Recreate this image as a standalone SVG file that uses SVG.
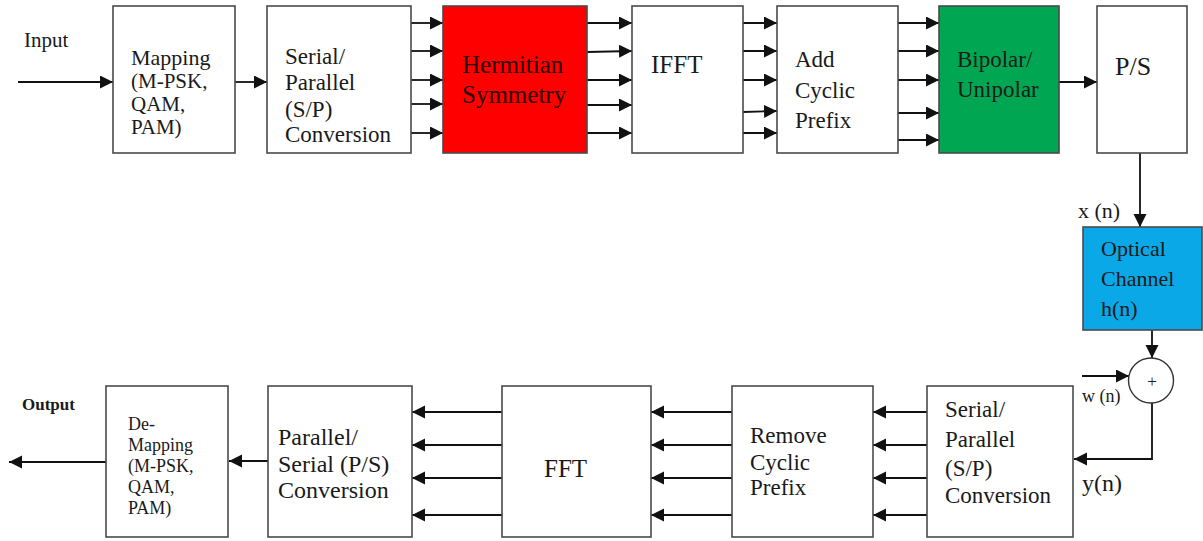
<svg xmlns="http://www.w3.org/2000/svg" width="1203" height="541" viewBox="0 0 1203 541">
<style>
.box{fill:#fff;stroke:#4a4a4a;stroke-width:1.6}
.t{font-family:"Liberation Serif","Times New Roman",serif;fill:#1a1a1a}
.ln{fill:none;stroke:#111;stroke-width:1.8}
</style>
<defs>
<marker id="ah" markerUnits="userSpaceOnUse" markerWidth="14" markerHeight="14" refX="13" refY="6.5" orient="auto">
<path d="M0,0 L13,6.5 L0,13 z" fill="#111"/>
</marker>
</defs>
<rect width="1203" height="541" fill="#fff"/>

<g id="connectors">
<line class="ln" x1="18" y1="82" x2="113" y2="82" marker-end="url(#ah)"/>
<line class="ln" x1="235" y1="82" x2="267" y2="82" marker-end="url(#ah)"/>
<line class="ln" x1="411" y1="23" x2="443" y2="23" marker-end="url(#ah)"/>
<line class="ln" x1="411" y1="51" x2="443" y2="51" marker-end="url(#ah)"/>
<line class="ln" x1="411" y1="80" x2="443" y2="80" marker-end="url(#ah)"/>
<line class="ln" x1="411" y1="104" x2="443" y2="104" marker-end="url(#ah)"/>
<line class="ln" x1="411" y1="133" x2="443" y2="133" marker-end="url(#ah)"/>
<line class="ln" x1="587" y1="23" x2="632" y2="23" marker-end="url(#ah)"/>
<line class="ln" x1="587" y1="52" x2="632" y2="51" marker-end="url(#ah)"/>
<line class="ln" x1="587" y1="80" x2="632" y2="80" marker-end="url(#ah)"/>
<line class="ln" x1="587" y1="105" x2="632" y2="105" marker-end="url(#ah)"/>
<line class="ln" x1="587" y1="133" x2="632" y2="133" marker-end="url(#ah)"/>
<line class="ln" x1="743" y1="23" x2="777" y2="23" marker-end="url(#ah)"/>
<line class="ln" x1="743" y1="51" x2="777" y2="51" marker-end="url(#ah)"/>
<line class="ln" x1="743" y1="80" x2="777" y2="80" marker-end="url(#ah)"/>
<line class="ln" x1="743" y1="112" x2="777" y2="111" marker-end="url(#ah)"/>
<line class="ln" x1="743" y1="133" x2="777" y2="133" marker-end="url(#ah)"/>
<line class="ln" x1="898" y1="23" x2="939" y2="23" marker-end="url(#ah)"/>
<line class="ln" x1="898" y1="51" x2="939" y2="51" marker-end="url(#ah)"/>
<line class="ln" x1="898" y1="80" x2="939" y2="80" marker-end="url(#ah)"/>
<line class="ln" x1="898" y1="113" x2="939" y2="113" marker-end="url(#ah)"/>
<line class="ln" x1="898" y1="140" x2="939" y2="140" marker-end="url(#ah)"/>
<line class="ln" x1="1059" y1="82" x2="1097" y2="82" marker-end="url(#ah)"/>
<line class="ln" x1="1140" y1="153" x2="1140" y2="227" marker-end="url(#ah)"/>
<line class="ln" x1="1152" y1="330" x2="1152" y2="358" marker-end="url(#ah)"/>
<line class="ln" x1="1082" y1="376" x2="1129" y2="376" marker-end="url(#ah)"/>
<path class="ln" d="M1152,403 V459 H1074" marker-end="url(#ah)"/>
<line class="ln" x1="927" y1="412" x2="873" y2="412" marker-end="url(#ah)"/>
<line class="ln" x1="927" y1="445" x2="873" y2="445" marker-end="url(#ah)"/>
<line class="ln" x1="927" y1="478" x2="873" y2="478" marker-end="url(#ah)"/>
<line class="ln" x1="927" y1="515" x2="873" y2="515" marker-end="url(#ah)"/>
<line class="ln" x1="732" y1="412" x2="651" y2="412" marker-end="url(#ah)"/>
<line class="ln" x1="732" y1="445" x2="651" y2="445" marker-end="url(#ah)"/>
<line class="ln" x1="732" y1="478" x2="651" y2="478" marker-end="url(#ah)"/>
<line class="ln" x1="732" y1="515" x2="651" y2="515" marker-end="url(#ah)"/>
<line class="ln" x1="502" y1="412" x2="412" y2="412" marker-end="url(#ah)"/>
<line class="ln" x1="502" y1="445" x2="412" y2="445" marker-end="url(#ah)"/>
<line class="ln" x1="502" y1="478" x2="412" y2="478" marker-end="url(#ah)"/>
<line class="ln" x1="502" y1="515" x2="412" y2="515" marker-end="url(#ah)"/>
<line class="ln" x1="268" y1="461" x2="229" y2="461" marker-end="url(#ah)"/>
<line class="ln" x1="106" y1="462" x2="9" y2="462" marker-end="url(#ah)"/>
</g>

<g id="input-label"><text class="t" x="24" y="47" font-size="21">Input</text></g>

<g id="mapping">
<rect class="box" x="113" y="6" width="122" height="147"/>
<text class="t" x="131" y="65" font-size="22">Mapping</text>
<text class="t" x="131" y="88" font-size="21">(M-PSK,</text>
<text class="t" x="131" y="111" font-size="21">QAM,</text>
<text class="t" x="131" y="134" font-size="21">PAM)</text>
</g>

<g id="sp-top">
<rect class="box" x="267" y="6" width="144" height="147"/>
<text class="t" x="285" y="64" font-size="23">Serial/</text>
<text class="t" x="285" y="90" font-size="23">Parallel</text>
<text class="t" x="285" y="117" font-size="23">(S/P)</text>
<text class="t" x="285" y="142" font-size="23">Conversion</text>
</g>

<g id="hermitian">
<rect x="443" y="6" width="144" height="147" fill="#ff0000" stroke="#4a4a4a" stroke-width="1.6"/>
<text class="t" x="462" y="73" font-size="25" style="fill:#2a0000">Hermitian</text>
<text class="t" x="462" y="103" font-size="25" style="fill:#2a0000">Symmetry</text>
</g>

<g id="ifft">
<rect class="box" x="632" y="6" width="111" height="147"/>
<text class="t" x="651" y="73" font-size="25">IFFT</text>
</g>

<g id="add-cp">
<rect class="box" x="777" y="6" width="121" height="147"/>
<text class="t" x="795" y="67" font-size="23">Add</text>
<text class="t" x="795" y="98" font-size="23">Cyclic</text>
<text class="t" x="795" y="128" font-size="23">Prefix</text>
</g>

<g id="bipolar">
<rect x="939" y="6" width="120" height="147" fill="#00a651" stroke="#4a4a4a" stroke-width="1.6"/>
<text class="t" x="957" y="67" font-size="23">Bipolar/</text>
<text class="t" x="957" y="97" font-size="23">Unipolar</text>
</g>

<g id="ps-top">
<rect class="box" x="1097" y="6" width="90" height="147"/>
<text class="t" x="1115" y="75" font-size="26">P/S</text>
</g>

<g id="xn-label"><text class="t" x="1078" y="218" font-size="22">x (n)</text></g>

<g id="optical-channel">
<rect x="1083" y="227" width="119" height="103" fill="#0aa8e6" stroke="#4a4a4a" stroke-width="1.6"/>
<text class="t" x="1101" y="256" font-size="22">Optical</text>
<text class="t" x="1101" y="286" font-size="22">Channel</text>
<text class="t" x="1101" y="316" font-size="22">h(n)</text>
</g>

<g id="adder">
<circle cx="1151" cy="380.5" r="22.5" fill="#fff" stroke="#333" stroke-width="1.4"/>
<text class="t" x="1152" y="387" font-size="17" text-anchor="middle">+</text>
</g>

<g id="wn-label"><text class="t" x="1082" y="402" font-size="18">w (n)</text></g>
<g id="yn-label"><text class="t" x="1082" y="491" font-size="24">y(n)</text></g>

<g id="sp-bottom">
<rect class="box" x="927" y="386" width="146" height="151"/>
<text class="t" x="945" y="417" font-size="23">Serial/</text>
<text class="t" x="945" y="447" font-size="23">Parallel</text>
<text class="t" x="945" y="476" font-size="23">(S/P)</text>
<text class="t" x="945" y="503" font-size="23">Conversion</text>
</g>

<g id="remove-cp">
<rect class="box" x="732" y="386" width="141" height="151"/>
<text class="t" x="750" y="443" font-size="23">Remove</text>
<text class="t" x="750" y="470" font-size="23">Cyclic</text>
<text class="t" x="750" y="495" font-size="23">Prefix</text>
</g>

<g id="fft">
<rect class="box" x="502" y="386" width="149" height="151"/>
<text class="t" x="544" y="477" font-size="25">FFT</text>
</g>

<g id="ps-bottom">
<rect class="box" x="268" y="386" width="144" height="151"/>
<text class="t" x="278" y="445" font-size="24">Parallel/</text>
<text class="t" x="278" y="472" font-size="24">Serial (P/S)</text>
<text class="t" x="278" y="498" font-size="24">Conversion</text>
</g>

<g id="demapping">
<rect class="box" x="106" y="386" width="122" height="151"/>
<text class="t" x="128" y="430" font-size="18">De-</text>
<text class="t" x="128" y="451" font-size="18">Mapping</text>
<text class="t" x="128" y="472" font-size="18">(M-PSK,</text>
<text class="t" x="128" y="493" font-size="18">QAM,</text>
<text class="t" x="128" y="514" font-size="18">PAM)</text>
</g>

<g id="output-label"><text class="t" x="22" y="410" font-size="17" font-weight="bold">Output</text></g>
</svg>
